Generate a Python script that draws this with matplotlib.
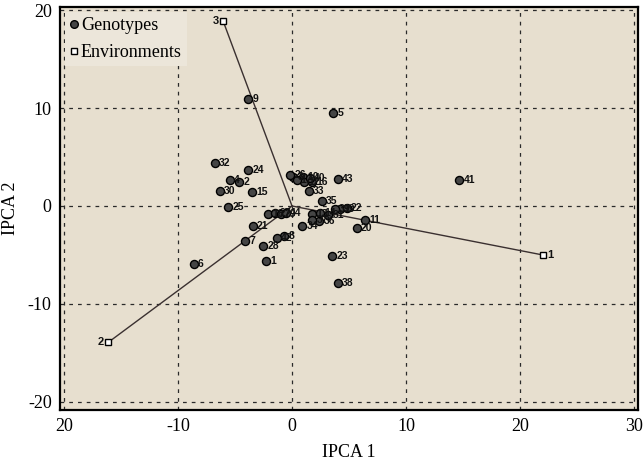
import matplotlib
matplotlib.use("Agg")
import matplotlib.pyplot as plt
from matplotlib.lines import Line2D

# Genotype scores (IPCA 1, IPCA 2)
geno_ids = ["1", "2", "3", "4", "5", "6", "7", "8", "9", "10",
            "11", "12", "13", "14", "15", "16", "17", "18", "19", "20",
            "21", "22", "23", "24", "25", "26", "27", "28", "29", "30",
            "31", "32", "33", "34", "35", "36", "37", "38", "39", "40",
            "41", "42", "43", "44"]
geno_x = [-2.28, -4.62, 0.11, -5.48, 3.60, -8.64, -4.12, -0.70, -3.82, 0.99,
          6.40, 1.08, 1.78, 2.46, -3.48, 1.73, 0.41, -2.08, 4.17, 5.68,
          -3.45, 4.80, 3.55, -3.83, -5.59, -0.18, -1.49, -2.52, -0.99, -6.32,
          3.18, -6.75, 1.45, 0.89, 2.59, 2.39, 1.78, 4.00, 3.77, 1.58,
          14.68, -1.32, 4.00, -0.57]
geno_y = [-5.58, 2.48, 2.99, 2.65, 9.49, -5.92, -3.54, -3.11, 10.87, 2.99,
          -1.48, 2.48, -0.85, -0.74, 1.46, 2.42, 2.65, -0.82, -0.31, -2.21,
          -2.04, -0.17, -5.10, 3.67, -0.13, 3.16, -0.74, -4.08, -0.82, 1.56,
          -0.92, 4.42, 1.50, -2.07, 0.51, -1.53, -1.43, -7.89, -0.31, 2.89,
          2.65, -3.27, 2.76, -0.71]

# Environment scores
env_ids = ["1", "2", "3"]
env_x = [22.0, -16.1, -6.05]
env_y = [-5.0, -13.9, 18.9]

x_ticks = [-20, -10, 0, 10, 20, 30]
x_ticklabels = ["20", "-10", "0", "10", "20", "30"]
y_ticks = [-20, -10, 0, 10, 20]
y_ticklabels = ["-20", "-10", "0", "10", "20"]

serif = ["Liberation Serif", "DejaVu Serif"]
narrow = ["Liberation Sans Narrow", "Liberation Sans", "DejaVu Sans"]

fig = plt.figure(figsize=(6.44, 4.63), dpi=100)
ax = fig.add_axes([0.0932, 0.1145, 0.8975, 0.8704])
ax.set_facecolor("#e7dfcf")

ax.set_xlim(-20.35, 30.35)
ax.set_ylim(-20.82, 20.31)

ax.set_xticks(x_ticks)
ax.set_xticklabels(x_ticklabels, fontfamily=serif, fontsize=13)
ax.set_yticks(y_ticks)
ax.set_yticklabels(y_ticklabels, fontfamily=serif, fontsize=13)
ax.tick_params(length=0, pad=6)

ax.grid(True, linestyle=(0, (3, 4)), color="#2a2a2a", linewidth=0.9)
ax.set_axisbelow(True)

for s in ax.spines.values():
    s.set_linewidth(1.6)
    s.set_color("black")

# Environment vectors
for ex, ey in zip(env_x, env_y):
    ax.plot([0, ex], [0, ey], color="#3a3030", linewidth=1.0, zorder=2)

# Genotypes
ax.plot(geno_x, geno_y, linestyle="none", marker="o", markersize=5.8,
        markerfacecolor="#454545", markeredgecolor="black", markeredgewidth=1.0,
        zorder=3)
for gid, gx, gy in zip(geno_ids, geno_x, geno_y):
    ax.annotate(gid, (gx, gy), xytext=(3, 0), textcoords="offset points",
                ha="left", va="center", fontsize=7.5, fontweight="bold",
                fontfamily=narrow, color="#111111", zorder=4)

# Environments
ax.plot(env_x, env_y, linestyle="none", marker="s", markersize=4.5,
        markerfacecolor="white", markeredgecolor="black", markeredgewidth=1.0,
        zorder=3)
env_offsets = [(3, 0), (-3, 0), (-3, 0)]
env_ha = ["left", "right", "right"]
for eid, exx, eyy, off, ha in zip(env_ids, env_x, env_y, env_offsets, env_ha):
    ax.annotate(eid, (exx, eyy), xytext=off, textcoords="offset points",
                ha=ha, va="center", fontsize=8, fontweight="bold",
                fontfamily=narrow, color="#111111", zorder=4)

handles = [
    Line2D([], [], linestyle="none", marker="o", markersize=5.5,
           markerfacecolor="#454545", markeredgecolor="black", label="Genotypes"),
    Line2D([], [], linestyle="none", marker="s", markersize=5,
           markerfacecolor="white", markeredgecolor="black", label="Environments"),
]
leg = ax.legend(handles=handles, loc="upper left", frameon=True,
                facecolor="#ece6da", edgecolor="none", framealpha=1,
                handlelength=0.5, handletextpad=0.1, labelspacing=0.55,
                borderaxespad=0.25, borderpad=0.3,
                prop={"family": serif, "size": 13}, fancybox=False)

ax.set_xlabel("IPCA 1", fontfamily=serif, fontsize=13, labelpad=6)
ax.set_ylabel("IPCA 2", fontfamily=serif, fontsize=13, labelpad=6)

fig.savefig("out.png", dpi=100)
